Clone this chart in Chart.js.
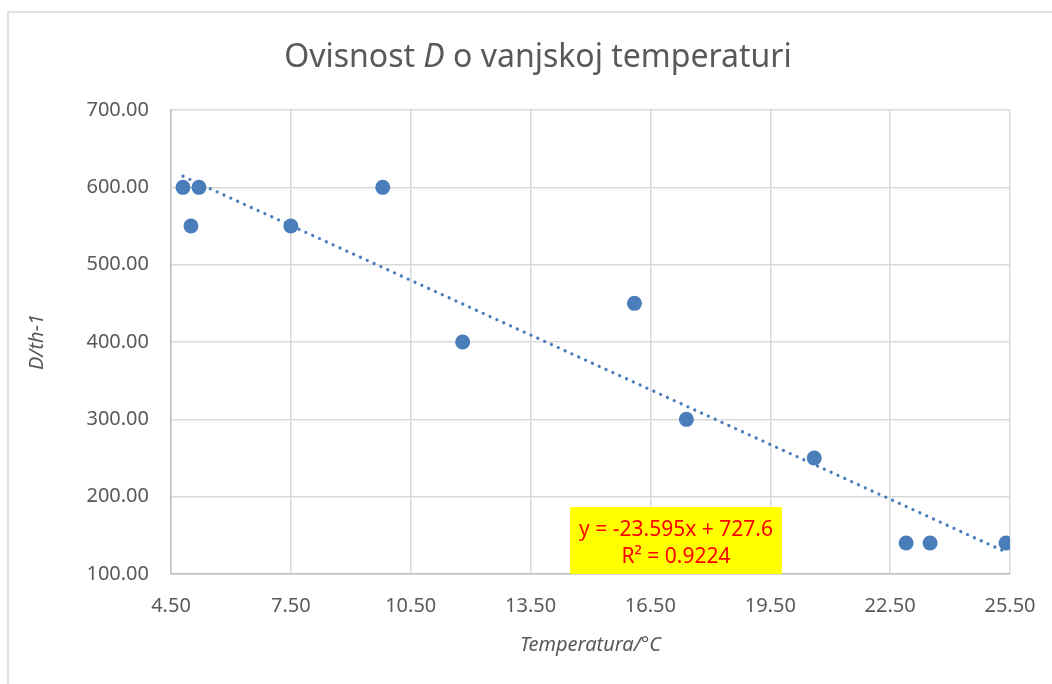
<!DOCTYPE html>
<html>
<head>
<meta charset="utf-8">
<script src="https://cdn.jsdelivr.net/npm/chart.js@4.4.1/dist/chart.umd.min.js"></script>
<style>
  html, body { margin: 0; padding: 0; background: #ffffff; }
  canvas { display: block; }
</style>
</head>
<body>
<canvas id="tempChart" width="1052" height="684"></canvas>
<script>
// measured points
var temperature = [4.8, 5.2, 5.0, 7.5, 9.8, 11.8, 16.1, 17.4, 20.6, 22.9, 23.5, 25.4];
var dValues = [600, 600, 550, 550, 600, 400, 450, 300, 250, 140, 140, 140];

// linear trendline end points (as drawn by Excel)
var trendX = [4.8, 25.4];
var trendY = [614.3, 128.3];

var xTicks = [4.5, 7.5, 10.5, 13.5, 16.5, 19.5, 22.5, 25.5];
var yTicks = [100, 200, 300, 400, 500, 600, 700];

var titleParts = ["Ovisnost ", "D", " o vanjskoj temperaturi"];
var equationLines = ["y = -23.595x + 727.6", "R\u00B2 = 0.9224"];

var FONT = "'Noto Sans', 'Open Sans', sans-serif";
var GREY = "#595959";

var points = temperature.map(function (t, i) {
    return { x: t, y: dValues[i] };
});
var trend = trendX.map(function (t, i) {
    return { x: t, y: trendY[i] };
});

// frame + title + equation box
var decorations = {
    id: "decorations",
    beforeDraw: function (chart) {
        var ctx = chart.ctx;
        ctx.save();
        ctx.strokeStyle = "#d9d9d9";
        ctx.lineWidth = 1.5;
        ctx.beginPath();
        ctx.moveTo(8, 684);
        ctx.lineTo(8, 12);
        ctx.lineTo(1052, 12);
        ctx.stroke();
        ctx.restore();
    },
    afterDraw: function (chart, args, opts) {
        var ctx = chart.ctx;
        ctx.save();
        // title with italic D
        var normal = "32px " + FONT;
        var italic = "italic 32px " + FONT;
        var widths = titleParts.map(function (p, i) {
            ctx.font = i === 1 ? italic : normal;
            return ctx.measureText(p).width;
        });
        var total = widths.reduce(function (a, b) { return a + b; }, 0);
        var x = 538 - total / 2;
        ctx.fillStyle = GREY;
        ctx.textBaseline = "middle";
        ctx.textAlign = "left";
        titleParts.forEach(function (p, i) {
            ctx.font = i === 1 ? italic : normal;
            ctx.fillText(p, x, 58);
            x += widths[i];
        });

        // equation box
        var xs = chart.scales.x, ys = chart.scales.y;
        var left = xs.getPixelForValue(opts.box.x0);
        var right = xs.getPixelForValue(opts.box.x1);
        var top = ys.getPixelForValue(opts.box.y1);
        var bottom = ys.getPixelForValue(opts.box.y0);
        ctx.fillStyle = "#ffff00";
        ctx.fillRect(left, top, right - left, bottom - top);
        ctx.fillStyle = "#ff0000";
        ctx.font = "21px " + FONT;
        ctx.textAlign = "center";
        var cx = (left + right) / 2;
        var cy = (top + bottom) / 2;
        ctx.fillText(equationLines[0], cx, cy - 11);
        ctx.fillText(equationLines[1], cx, cy + 16);
        ctx.restore();
    }
};

var ctx = document.getElementById("tempChart");
var chart = new Chart(ctx, {
    type: "scatter",
    data: {
        datasets: [
            {
                label: "D",
                data: points,
                backgroundColor: "#4A7EBB",
                borderWidth: 0,
                pointRadius: 7.5,
                order: 1
            },
            {
                label: "Linear (D)",
                data: trend,
                showLine: true,
                borderColor: "#4A7EBB",
                borderWidth: 3.2,
                borderDash: [0.1, 7.4],
                borderCapStyle: "round",
                pointRadius: 0,
                order: 0
            }
        ]
    },
    options: {
        responsive: false,
        animation: false,
        layout: {
            padding: { top: 110, right: 42, bottom: 0, left: 0 }
        },
        scales: {
            x: {
                type: "linear",
                min: 4.5,
                max: 25.5,
                afterFit: function (scale) {
                    scale.height = 110;
                    scale.paddingLeft = 0;
                    scale.paddingRight = 0;
                },
                afterBuildTicks: function (scale) {
                    scale.ticks = xTicks.map(function (v) { return { value: v }; });
                },
                ticks: {
                    padding: 20,
                    color: GREY,
                    font: { family: FONT, size: 20 },
                    callback: function (v) { return Number(v).toFixed(2); }
                },
                grid: { color: "#d9d9d9", lineWidth: 1.5, drawTicks: false },
                border: { color: "#bfbfbf", width: 1.5 },
                title: {
                    display: true,
                    text: "Temperatura/\u00B0C",
                    color: GREY,
                    font: { family: FONT, size: 20, style: "italic" },
                    padding: { top: 0, bottom: 27 }
                }
            },
            y: {
                type: "linear",
                min: 100,
                max: 700,
                afterFit: function (scale) {
                    scale.width = 171;
                    scale.paddingTop = 0;
                    scale.paddingBottom = 0;
                },
                afterBuildTicks: function (scale) {
                    scale.ticks = yTicks.map(function (v) { return { value: v }; });
                },
                ticks: {
                    padding: 22,
                    color: GREY,
                    font: { family: FONT, size: 20 },
                    callback: function (v) { return Number(v).toFixed(2); }
                },
                grid: { color: "#d9d9d9", lineWidth: 1.5, drawTicks: false },
                border: { color: "#bfbfbf", width: 1.5 },
                title: {
                    display: true,
                    text: "D/th-1",
                    color: GREY,
                    font: { family: FONT, size: 20, style: "italic" },
                    padding: { top: 25, bottom: 0 }
                }
            }
        },
        plugins: {
            legend: { display: false },
            tooltip: { enabled: false },
            decorations: {
                box: { x0: 14.49, x1: 19.79, y0: 100, y1: 186.5 }
            }
        }
    },
    plugins: [decorations]
});
</script>
</body>
</html>
